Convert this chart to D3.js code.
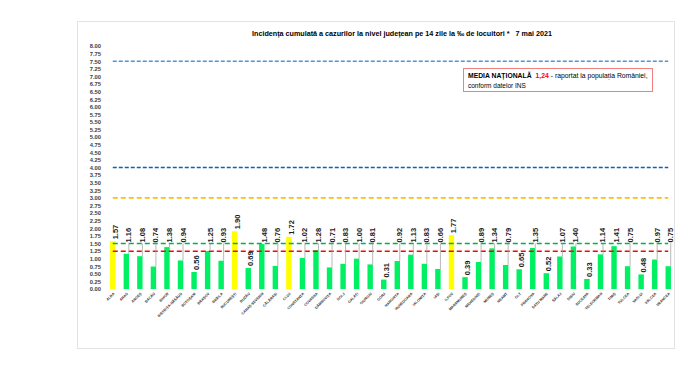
<!DOCTYPE html>
<html><head><meta charset="utf-8">
<script src="https://cdn.jsdelivr.net/npm/d3@7"></script>
<style>body{margin:0;background:#fff}svg{display:block}</style>
</head><body>
<svg id="c" width="700" height="369"></svg>
<script>
const categories = ["ALBA","ARAD","ARGEȘ","BACĂU","BIHOR","BISTRIȚA-NĂSĂUD","BOTOȘANI","BRAȘOV","BRĂILA","BUCUREȘTI","BUZĂU","CARAȘ-SEVERIN","CĂLĂRAȘI","CLUJ","CONSTANȚA","COVASNA","DÂMBOVIȚA","DOLJ","GALAȚI","GIURGIU","GORJ","HARGHITA","HUNEDOARA","IALOMIȚA","IAȘI","ILFOV","MARAMUREȘ","MEHEDINȚI","MUREȘ","NEAMȚ","OLT","PRAHOVA","SATU MARE","SĂLAJ","SIBIU","SUCEAVA","TELEORMAN","TIMIȘ","TULCEA","VASLUI","VÂLCEA","VRANCEA"];
const values = [1.57,1.16,1.08,0.74,1.38,0.94,0.56,1.25,0.93,1.90,0.69,1.48,0.76,1.72,1.02,1.28,0.71,0.83,1.00,0.81,0.31,0.92,1.13,0.83,0.66,1.77,0.39,0.89,1.34,0.79,0.65,1.35,0.52,1.07,1.40,0.33,1.14,1.41,0.75,0.48,0.97,0.75];
// counties whose value label sits directly on the bar (others are lifted with a leader line)
const labelOnBar = ["ALBA","BOTOȘANI","BUCUREȘTI","BUZĂU","CLUJ","GORJ","ILFOV","MARAMUREȘ","OLT","SATU MARE","SUCEAVA","VASLUI"];
const yTicks = d3.range(0, 8.001, 0.25);
const refValues = [7.5, 4.0, 3.0, 1.5, 1.24];
const refColors = ["#4F94D8", "#0066BB", "#FFC000", "#00B050", "#FF0000"];
const threshold = 1.5;
const nationalMean = "1,24";
const title = "Incidența cumulată a cazurilor la nivel județean pe 14 zile la ‰ de locuitori *   7 mai 2021";

const svg = d3.select("#c");
const font = "'Liberation Sans', Arial, sans-serif";

// frame
svg.append("rect").attr("x",77.5).attr("y",21.5).attr("width",597).attr("height",327)
  .attr("fill","none").attr("stroke","#e3e3e3").attr("stroke-width",1);

const x = d3.scaleBand().domain(categories).range([106,675]).paddingInner(0.6).paddingOuter(0.3);
const y = d3.scaleLinear().domain([0,8]).range([289,46]);

// title
svg.append("text").attr("x",402).attr("y",36).attr("text-anchor","middle")
  .attr("font-family",font).attr("font-size",7.2).attr("font-weight","bold").attr("fill","#000")
  .style("white-space","pre").text(title);

// y axis
const yAxis = d3.axisLeft(y).tickValues(yTicks).tickFormat(d3.format(".2f")).tickSize(0).tickPadding(0);
const ga = svg.append("g").attr("transform","translate(101,0)").call(yAxis);
ga.select(".domain").remove();
ga.selectAll("text").attr("font-family",font).attr("font-size",5.8).attr("font-weight","bold").attr("fill","#404040");

// bars
svg.append("g").selectAll("rect").data(values).join("rect")
  .attr("x",(d,i)=>x(categories[i])).attr("width",x.bandwidth())
  .attr("y",d=>y(d)).attr("height",d=>y(0)-y(d))
  .attr("fill",d=>d>threshold?"#FFFF00":"#00F064");

// reference lines
const x0 = x(categories[0]) + x.bandwidth()/2;
const x1 = x(categories[categories.length-1]) + x.bandwidth()/2;
const dashes = ["4,2","4,2","5,3","5,3","5,3"];
const widths = [1.4,1.4,1.8,1.5,1.5];
svg.append("g").selectAll("line").data(refValues).join("line")
  .attr("x1",x0).attr("x2",x1).attr("y1",d=>y(d)).attr("y2",d=>y(d))
  .attr("stroke",(d,i)=>refColors[i]).attr("stroke-width",(d,i)=>widths[i])
  .attr("stroke-dasharray",(d,i)=>dashes[i]);

// value labels with leader lines
const labelBase = (v,c) => labelOnBar.includes(c) ? y(v) - 1 : y(1.5);
const lab = svg.append("g");
values.forEach((v,i)=>{
  const c = categories[i];
  const cx = x(c) + x.bandwidth()/2;
  const lb = labelBase(v,c);
  if (y(v) - lb > 3) {
    lab.append("line").attr("x1",cx+2.5).attr("x2",cx+2.5).attr("y1",y(v)).attr("y2",lb)
      .attr("stroke","#a6a6a6").attr("stroke-width",0.8);
  }
  lab.append("text").attr("transform",`translate(${cx+5},${lb-1}) rotate(-90)`)
    .attr("font-family",font).attr("font-size",7.5).attr("font-weight","bold").attr("fill","#1a1a1a")
    .text(d3.format(".2f")(v));
});

// x labels
svg.append("g").selectAll("text").data(categories).join("text")
  .attr("transform",d=>`translate(${x(d)+x.bandwidth()/2+2},${294}) rotate(-45)`)
  .attr("text-anchor","end").attr("font-family",font).attr("font-size",3.6).attr("font-weight","bold")
  .attr("fill","#333").text(d=>d);

// legend box
svg.append("rect").attr("x",463.5).attr("y",68.5).attr("width",189).attr("height",23)
  .attr("fill","#fff").attr("stroke","#F08080").attr("stroke-width",1);
const t1 = svg.append("text").attr("x",468).attr("y",78).attr("font-family",font).attr("font-size",6.8);
t1.append("tspan").attr("font-weight","bold").attr("fill","#000").text("MEDIA NAȚIONALĂ");
t1.append("tspan").attr("font-weight","bold").attr("fill","#FF0000").attr("dx",4).text(nationalMean);
t1.append("tspan").attr("fill","#000").attr("dx",2).text("- raportat la populația României,");
svg.append("text").attr("x",468).attr("y",88).attr("font-family",font).attr("font-size",6.5)
  .attr("fill","#000").text("conform datelor INS");
</script>
</body></html>
